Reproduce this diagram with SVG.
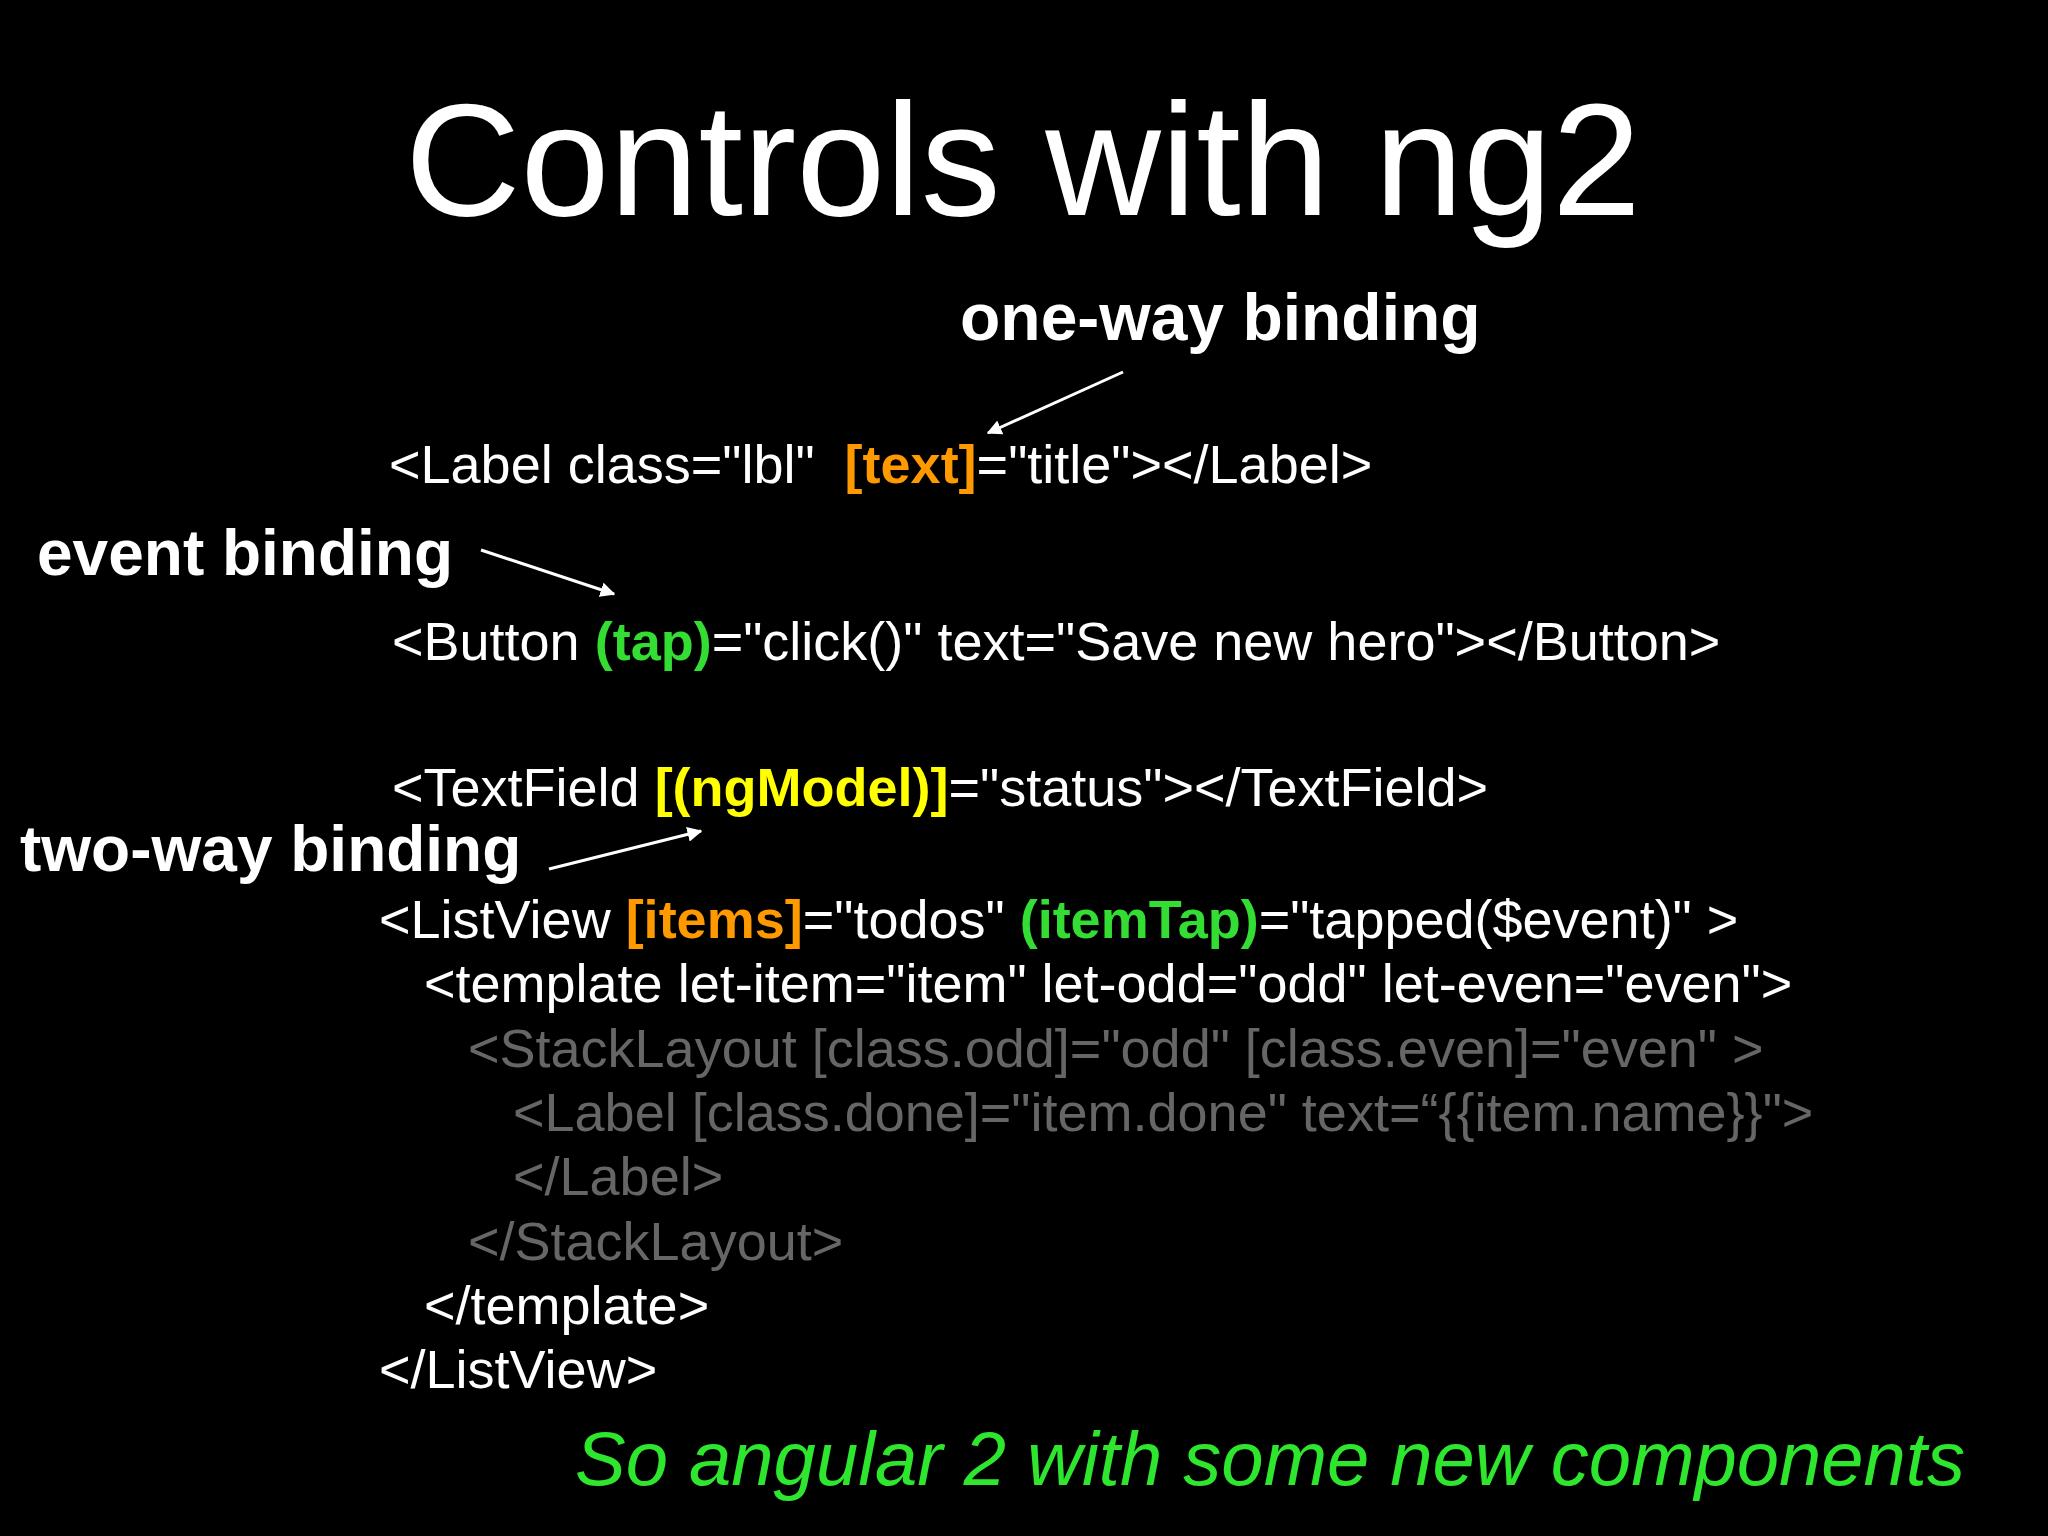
<svg xmlns="http://www.w3.org/2000/svg" width="2048" height="1536" viewBox="0 0 2048 1536">
<style>
text{font-family:"Liberation Sans",Arial,sans-serif;fill:#fff}
.c{font-size:54px}
.g{fill:#666}
.or{fill:#ff9900;font-weight:bold}
.gr{fill:#33dd33;font-weight:bold}
.ye{fill:#ffff00;font-weight:bold}
.lbl{font-size:64px;font-weight:bold}
.arr{stroke:#fff;stroke-width:3;fill:none;marker-end:url(#ah)}
</style>
<defs><marker id="ah" viewBox="0 0 10 10" refX="9" refY="5" markerWidth="5" markerHeight="5" orient="auto"><path d="M0,0L10,5L0,10z" fill="#fff"/></marker></defs>
<rect width="2048" height="1536" fill="#000"/>
<text x="1023" y="215" font-size="160" text-anchor="middle">Controls with ng2</text>
<g id="labels">
<text class="lbl" x="960" y="340" style="font-size:66px">one-way binding</text>
<text class="lbl" x="37" y="575">event binding</text>
<text class="lbl" x="20" y="871">two-way binding</text>
</g>
<g id="connectors">
<line class="arr" x1="1123" y1="372" x2="988" y2="433"/>
<line class="arr" x1="481" y1="550" x2="614" y2="594"/>
<line class="arr" x1="549" y1="869" x2="701" y2="831"/>
</g>
<g id="code">
<text class="c" x="389" y="483" xml:space="preserve">&lt;Label class="lbl"  <tspan class="or">[text]</tspan>="title"&gt;&lt;/Label&gt;</text>
<text class="c" x="392" y="660">&lt;Button <tspan class="gr">(tap)</tspan>="click()" text="Save new hero"&gt;&lt;/Button&gt;</text>
<text class="c" x="392" y="806">&lt;TextField <tspan class="ye">[(ngModel)]</tspan>="status"&gt;&lt;/TextField&gt;</text>
<text class="c" x="379" y="938">&lt;ListView <tspan class="or">[items]</tspan>="todos" <tspan class="gr">(itemTap)</tspan>="tapped($event)" &gt;</text>
<text class="c" x="424" y="1002">&lt;template let-item="item" let-odd="odd" let-even="even"&gt;</text>
<text class="c g" x="468" y="1067">&lt;StackLayout [class.odd]="odd" [class.even]="even" &gt;</text>
<text class="c g" x="513" y="1131">&lt;Label [class.done]="item.done" text=“{{item.name}}"&gt;</text>
<text class="c g" x="513" y="1195">&lt;/Label&gt;</text>
<text class="c g" x="468" y="1260">&lt;/StackLayout&gt;</text>
<text class="c" x="424" y="1324">&lt;/template&gt;</text>
<text class="c" x="379" y="1388">&lt;/ListView&gt;</text>
</g>
<text x="575" y="1485" font-size="76" font-style="italic" style="fill:#2ee62e">So angular 2 with some new components</text>
</svg>
